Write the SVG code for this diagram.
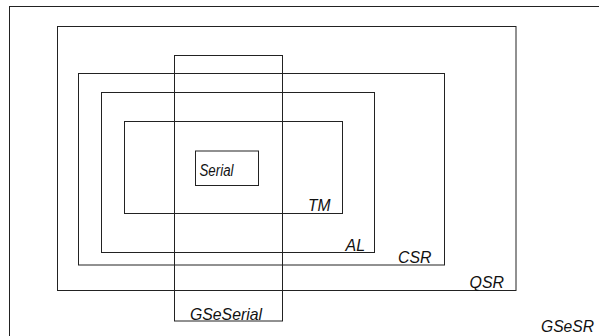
<svg xmlns="http://www.w3.org/2000/svg" width="599" height="336" viewBox="0 0 599 336">
<style>
.box{fill:none;stroke:#222;stroke-width:1}
.lbl{font-family:"Liberation Sans",Arial,sans-serif;font-style:italic;font-size:17px;fill:#111}
</style>
<rect width="599" height="336" fill="#fff"/>
<g id="GSeSR"><rect class="box" x="9.5" y="6.5" width="600" height="340"/><text class="lbl" x="541" y="332" textLength="53" lengthAdjust="spacingAndGlyphs">GSeSR</text></g>
<g id="QSR"><rect class="box" x="57.5" y="26.5" width="458.5" height="264"/><text class="lbl" x="469.5" y="288" textLength="34.5" lengthAdjust="spacingAndGlyphs">QSR</text></g>
<g id="CSR"><rect class="box" x="78.5" y="73.5" width="366" height="191.5"/><text class="lbl" x="398" y="263" textLength="33.5" lengthAdjust="spacingAndGlyphs">CSR</text></g>
<g id="AL"><rect class="box" x="101.5" y="92.5" width="273" height="160"/><text class="lbl" x="345.5" y="251" textLength="19.5" lengthAdjust="spacingAndGlyphs">AL</text></g>
<g id="TM"><rect class="box" x="124.5" y="121.5" width="218" height="92"/><text class="lbl" x="308" y="211" textLength="22.5" lengthAdjust="spacingAndGlyphs">TM</text></g>
<g id="Serial"><rect class="box" x="195.5" y="151" width="63" height="34.5"/><text class="lbl" x="199.5" y="175.5" style="font-size:16px" textLength="34" lengthAdjust="spacingAndGlyphs">Serial</text></g>
<g id="GSeSerial"><rect class="box" x="174.5" y="55.5" width="108" height="265.5"/><text class="lbl" x="190" y="319.5" textLength="72" lengthAdjust="spacingAndGlyphs">GSeSerial</text></g>
<g id="connectors"/>
</svg>
